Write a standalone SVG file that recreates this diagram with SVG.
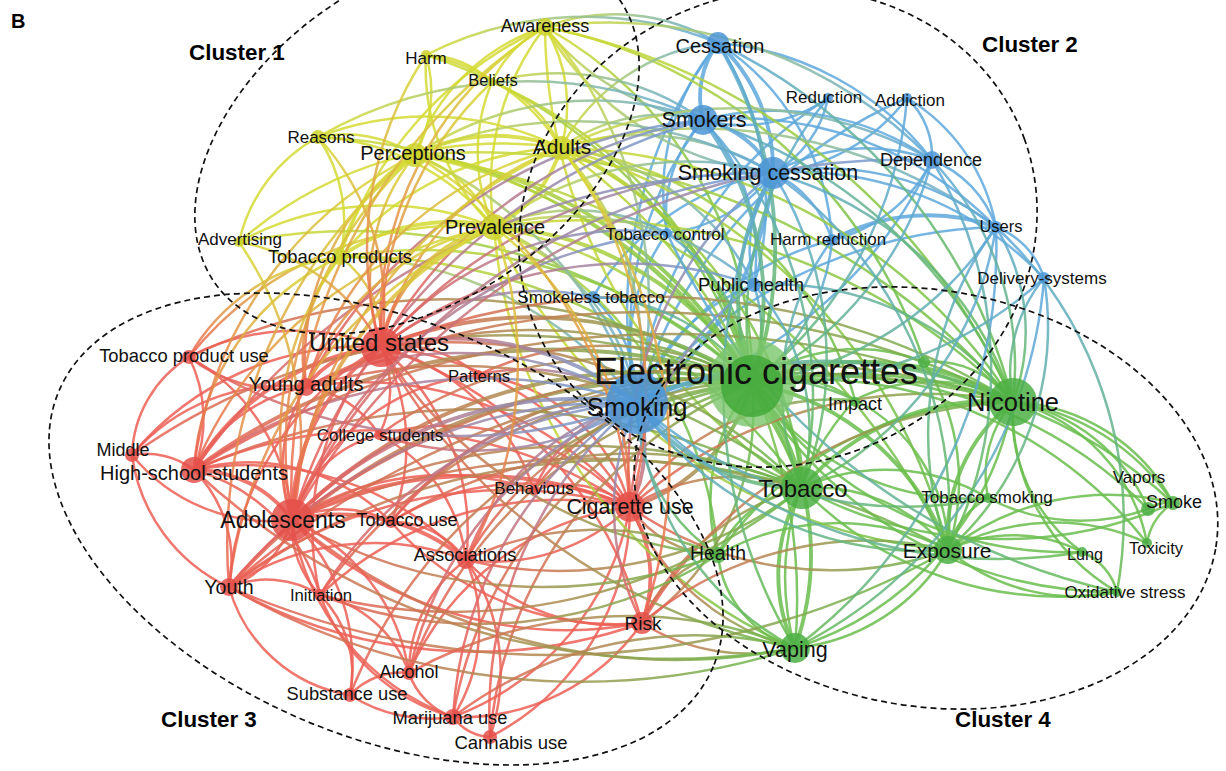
<svg xmlns="http://www.w3.org/2000/svg" width="1226" height="771" viewBox="0 0 1226 771">
<style>
.e path{fill:none;stroke-width:2.5;stroke-opacity:.85;stroke-linecap:round}
.e path.t{stroke-width:3.9}
.n1{fill:#cdd42c;fill-opacity:.85}
.n2{fill:#4c95d6;fill-opacity:.85}
.n3{fill:#e4504a;fill-opacity:.85}
.n4{fill:#4caf44;fill-opacity:.85}
.lb{font-family:"Liberation Sans",Arial,sans-serif;fill:#111;text-anchor:middle;dominant-baseline:central}
.cl{font-family:"Liberation Sans",Arial,sans-serif;font-weight:bold;fill:#000;font-size:22.4px}
.dash{fill:none;stroke:#111;stroke-width:1.7;stroke-dasharray:6 4}
</style>
<defs>
<linearGradient id="rg" x1="0" y1="0" x2="1" y2="0"><stop offset="0" stop-color="#ec5f55"/><stop offset="1" stop-color="#68bd4c"/></linearGradient>
<linearGradient id="rb" x1="0" y1="0" x2="1" y2="0"><stop offset="0" stop-color="#ec5f55"/><stop offset="1" stop-color="#6aa2dc"/></linearGradient>
<linearGradient id="brv" x1="0" y1="0" x2="0" y2="1"><stop offset="0" stop-color="#6aa2dc"/><stop offset="1" stop-color="#ec5f55"/></linearGradient>
<linearGradient id="yg" x1="0" y1="0" x2="1" y2="0"><stop offset="0" stop-color="#d6dc34"/><stop offset="1" stop-color="#68bd4c"/></linearGradient>
<linearGradient id="yb" x1="0" y1="0" x2="1" y2="0"><stop offset="0" stop-color="#d6dc34"/><stop offset="1" stop-color="#5ea8dc"/></linearGradient>
<linearGradient id="ybv" x1="0" y1="0" x2="0" y2="1"><stop offset="0" stop-color="#d6dc34"/><stop offset="1" stop-color="#5ea8dc"/></linearGradient>
<linearGradient id="bg" x1="0" y1="0" x2="1" y2="0"><stop offset="0" stop-color="#5ea8dc"/><stop offset="1" stop-color="#68bd4c"/></linearGradient>
<linearGradient id="gb" x1="0" y1="0" x2="1" y2="0"><stop offset="0" stop-color="#68bd4c"/><stop offset="1" stop-color="#5ea8dc"/></linearGradient>
<linearGradient id="bgv" x1="0" y1="0" x2="0" y2="1"><stop offset="0" stop-color="#5ea8dc"/><stop offset="1" stop-color="#68bd4c"/></linearGradient>
<linearGradient id="yrv" x1="0" y1="0" x2="0" y2="1"><stop offset="0" stop-color="#d6dc34"/><stop offset="1" stop-color="#ec5f55"/></linearGradient>
</defs>
<rect width="1226" height="771" fill="#fff"/>
<g id="connectors" class="e">
<g stroke="#d3da33">
<path d="M415 155A200 200 0 0 1 545 27"/><path d="M545 27A150 150 0 0 1 561 148"/><path d="M494 227A260 260 0 0 1 545 27"/><path d="M340 257A380 380 0 0 1 545 27"/><path d="M492 82A120 120 0 0 1 545 27"/>
<path d="M426 55A100 100 0 0 1 492 82"/><path d="M426 55A130 130 0 0 1 415 155"/><path d="M426 55A200 200 0 0 1 561 148"/><path d="M426 55A220 220 0 0 0 494 227"/><path d="M492 82A120 120 0 0 1 561 148"/><path d="M492 82A180 180 0 0 0 494 227"/>
<path d="M318 137A130 130 0 0 1 415 155"/><path d="M318 137A160 160 0 0 0 239 242"/><path d="M318 137A240 240 0 0 1 494 227"/><path d="M318 137A300 300 0 0 1 561 148"/><path d="M318 137A150 150 0 0 1 340 257"/>
<path class="t" d="M415 155A180 180 0 0 1 561 148"/><path d="M415 155A130 130 0 0 1 494 227"/><path d="M415 155A150 150 0 0 0 340 257"/><path class="t" d="M561 148A130 130 0 0 1 494 227"/><path d="M340 257A300 300 0 0 1 561 148"/><path class="t" d="M340 257A190 190 0 0 1 494 227"/><path d="M239 242A300 300 0 0 1 494 227"/><path d="M239 242A400 400 0 0 1 561 148"/>
</g>
<g stroke="#5ea8dc">
<path class="t" d="M718 43A90 90 0 0 0 703 120"/><path class="t" d="M718 43A170 170 0 0 1 773 173"/><path d="M718 43A440 440 0 0 0 637 403"/><path d="M718 43A230 230 0 0 0 667 233"/><path d="M718 43A290 290 0 0 1 754 285"/><path d="M718 43A250 250 0 0 1 832 240"/><path d="M718 43A300 300 0 0 1 932 160"/>
<path class="t" d="M703 120A100 100 0 0 1 773 173"/><path d="M703 120A150 150 0 0 0 828 98"/><path d="M703 120A350 350 0 0 0 637 403"/><path d="M703 120A140 140 0 0 0 667 233"/><path d="M703 120A200 200 0 0 1 754 285"/><path d="M703 120A280 280 0 0 1 932 160"/><path d="M703 120A360 360 0 0 1 996 227"/>
<path d="M773 173A110 110 0 0 0 828 98"/><path d="M773 173A190 190 0 0 0 907 98"/><path d="M773 173A190 190 0 0 1 932 160"/><path d="M773 173A280 280 0 0 1 996 227"/><path d="M773 173A110 110 0 0 1 832 240"/><path d="M773 173A150 150 0 0 1 667 233"/><path d="M773 173A140 140 0 0 0 754 285"/><path class="t" d="M773 173A320 320 0 0 1 637 403"/><path d="M773 173A260 260 0 0 0 593 297"/><path d="M773 173A340 340 0 0 1 1044 278"/>
<path d="M907 98A80 80 0 0 1 932 160"/><path d="M932 160A110 110 0 0 1 996 227"/><path d="M932 160A150 150 0 0 1 832 240"/><path d="M932 160A450 450 0 0 1 637 403"/><path d="M907 98A190 190 0 0 1 996 227"/><path class="t" d="M832 240A200 200 0 0 1 996 227"/><path d="M996 227A80 80 0 0 1 1044 278"/><path d="M996 227A480 480 0 0 0 637 403"/><path d="M832 240A300 300 0 0 0 637 403"/><path d="M754 285A200 200 0 0 0 637 403"/><path d="M593 297A140 140 0 0 1 637 403"/><path d="M667 233A200 200 0 0 0 637 403"/><path d="M828 98A420 420 0 0 0 637 403"/><path d="M907 98A480 480 0 0 0 637 403"/>
</g>
<g stroke="#ec5f55">
<path d="M189 357A230 230 0 0 1 381 347"/><path class="t" d="M306 387A100 100 0 0 1 381 347"/><path d="M381 347A120 120 0 0 1 478 375"/><path d="M381 347A100 100 0 0 1 379 435"/><path d="M132 455A300 300 0 0 1 381 347"/><path class="t" d="M194 470A250 250 0 0 1 381 347"/><path class="t" d="M292 520A210 210 0 0 1 381 347"/><path d="M381 347A200 200 0 0 1 391 522"/><path d="M381 347A320 320 0 0 1 630 507"/><path d="M381 347A240 240 0 0 1 466 560"/><path d="M229 587A300 300 0 0 1 381 347"/><path d="M381 347A400 400 0 0 1 642 623"/><path d="M381 347A280 280 0 0 0 320 595"/><path d="M381 347A220 220 0 0 1 534 490"/>
<path d="M189 357A150 150 0 0 0 306 387"/><path d="M189 357A120 120 0 0 0 132 455"/><path d="M189 357A140 140 0 0 1 194 470"/><path d="M189 357A200 200 0 0 1 292 520"/>
<path d="M194 470A160 160 0 0 1 306 387"/><path d="M306 387A150 150 0 0 0 292 520"/><path d="M132 455A200 200 0 0 1 306 387"/><path d="M306 387A100 100 0 0 1 379 435"/><path d="M306 387A350 350 0 0 1 630 507"/>
<path d="M132 455A80 80 0 0 1 194 470"/><path d="M132 455A180 180 0 0 0 292 520"/><path d="M132 455A170 170 0 0 0 229 587"/>
<path class="t" d="M194 470A120 120 0 0 1 292 520"/><path d="M194 470A130 130 0 0 1 229 587"/><path d="M194 470A200 200 0 0 1 391 522"/><path d="M194 470A300 300 0 0 1 466 560"/><path d="M194 470A450 450 0 0 1 630 507"/><path d="M194 470A180 180 0 0 1 320 595"/>
<path d="M292 520A110 110 0 0 1 391 522"/><path class="t" d="M292 520A200 200 0 0 1 466 560"/><path d="M292 520A100 100 0 0 1 229 587"/><path d="M292 520A100 100 0 0 0 320 595"/><path d="M292 520A200 200 0 0 1 409 673"/><path d="M292 520A200 200 0 0 1 350 695"/><path d="M292 520A250 250 0 0 0 453 717"/><path class="t" d="M292 520A400 400 0 0 1 630 507"/><path d="M292 520A400 400 0 0 0 642 623"/><path d="M292 520A120 120 0 0 1 379 435"/><path d="M292 520A220 220 0 0 1 478 375"/><path d="M292 520A280 280 0 0 1 534 490"/>
<path d="M229 587A100 100 0 0 1 320 595"/><path d="M229 587A260 260 0 0 1 466 560"/><path d="M229 587A450 450 0 0 1 630 507"/><path d="M229 587A500 500 0 0 0 642 623"/><path d="M229 587A150 150 0 0 0 350 695"/>
<path d="M320 595A110 110 0 0 1 350 695"/><path d="M320 595A200 200 0 0 0 453 717"/><path d="M320 595A120 120 0 0 1 409 673"/><path d="M350 695A70 70 0 0 1 409 673"/><path d="M409 673A70 70 0 0 0 453 717"/><path d="M409 673A280 280 0 0 1 630 507"/><path d="M409 673A140 140 0 0 1 466 560"/>
<path d="M453 717A50 50 0 0 0 490 737"/><path d="M350 695A150 150 0 0 0 453 717"/><path d="M453 717A280 280 0 0 0 630 507"/><path d="M466 560A170 170 0 0 1 453 717"/><path d="M453 717A220 220 0 0 0 642 623"/><path d="M466 560A200 200 0 0 1 490 737"/><path d="M490 737A260 260 0 0 0 630 507"/>
<path d="M466 560A200 200 0 0 0 630 507"/><path d="M391 522A90 90 0 0 1 466 560"/><path d="M466 560A200 200 0 0 0 642 623"/><path class="t" d="M630 507A130 130 0 0 1 642 623"/><path d="M534 490A100 100 0 0 1 630 507"/><path d="M391 522A250 250 0 0 1 630 507"/><path d="M379 435A250 250 0 0 1 630 507"/><path d="M379 435A160 160 0 0 1 466 560"/><path d="M478 375A180 180 0 0 1 630 507"/><path d="M391 522A300 300 0 0 0 642 623"/><path d="M320 595A350 350 0 0 1 630 507"/>
</g>
<g stroke="#68bd4c">
<path class="t" d="M752 383A300 300 0 0 1 1013 402"/><path d="M752 383A120 120 0 0 1 855 400"/><path d="M752 383A180 180 0 0 1 924 362"/><path class="t" d="M752 383A120 120 0 0 1 802 488"/><path d="M752 383A260 260 0 0 0 988 498"/><path d="M752 383A450 450 0 0 1 1148 509"/><path d="M752 383A480 480 0 0 1 1173 503"/><path d="M752 383A190 190 0 0 0 718 555"/><path class="t" d="M752 383A260 260 0 0 1 948 550"/><path d="M752 383A380 380 0 0 0 1082 552"/><path d="M752 383A430 430 0 0 1 1147 543"/><path d="M752 383A420 420 0 0 0 1117 592"/><path class="t" d="M752 383A280 280 0 0 1 795 648"/>
<path d="M855 400A170 170 0 0 1 1013 402"/><path d="M924 362A100 100 0 0 1 1013 402"/><path class="t" d="M802 488A250 250 0 0 1 1013 402"/><path d="M1013 402A110 110 0 0 0 988 498"/><path d="M1013 402A180 180 0 0 1 1148 509"/><path d="M1013 402A190 190 0 0 1 1173 503"/><path d="M1013 402A230 230 0 0 1 1173 503"/><path d="M718 555A350 350 0 0 1 1013 402"/><path class="t" d="M1013 402A170 170 0 0 0 948 550"/><path d="M1013 402A170 170 0 0 0 1082 552"/><path d="M1013 402A180 180 0 0 1 1147 543"/><path d="M1013 402A210 210 0 0 0 1117 592"/><path d="M795 648A320 320 0 0 0 1013 402"/>
<path d="M802 488A170 170 0 0 1 948 550"/><path class="t" d="M802 488A170 170 0 0 0 795 648"/><path d="M718 555A110 110 0 0 1 802 488"/><path d="M802 488A200 200 0 0 1 988 498"/><path d="M802 488A360 360 0 0 0 1117 592"/><path d="M802 488A420 420 0 0 0 1173 503"/>
<path d="M795 648A200 200 0 0 0 948 550"/><path d="M948 550A150 150 0 0 1 1082 552"/><path d="M948 550A200 200 0 0 0 1117 592"/><path d="M948 550A220 220 0 0 1 1147 543"/><path d="M948 550A80 80 0 0 1 988 498"/><path d="M718 555A240 240 0 0 1 948 550"/><path d="M948 550A260 260 0 0 1 1173 503"/><path d="M718 555A110 110 0 0 0 795 648"/><path d="M855 400A170 170 0 0 1 948 550"/><path d="M855 400A260 260 0 0 0 795 648"/><path d="M924 362A220 220 0 0 1 948 550"/><path d="M988 498A200 200 0 0 0 1148 509"/><path d="M1148 509A40 40 0 0 1 1173 503"/><path d="M1147 543A60 60 0 0 1 1173 503"/><path d="M1082 552A60 60 0 0 1 1117 592"/>
</g>
<g stroke="url(#yg)">
<path d="M545 27A400 400 0 0 1 752 383"/><path class="t" d="M415 155A450 450 0 0 1 752 383"/><path class="t" d="M561 148A320 320 0 0 1 752 383"/><path class="t" d="M494 227A320 320 0 0 1 752 383"/><path d="M340 257A480 480 0 0 1 752 383"/><path d="M239 242A600 600 0 0 1 752 383"/><path d="M318 137A550 550 0 0 1 752 383"/><path d="M426 55A500 500 0 0 1 752 383"/><path d="M492 82A450 450 0 0 1 752 383"/>
<path d="M561 148A550 550 0 0 1 1013 402"/><path d="M494 227A600 600 0 0 1 1013 402"/><path d="M415 155A700 700 0 0 1 1013 402"/><path d="M545 27A650 650 0 0 1 1013 402"/><path d="M561 148A420 420 0 0 1 802 488"/><path d="M494 227A400 400 0 0 1 802 488"/><path d="M415 155A500 500 0 0 1 802 488"/><path d="M545 27A550 550 0 0 0 802 488"/><path d="M561 148A550 550 0 0 1 948 550"/><path d="M494 227A500 500 0 0 0 795 648"/><path d="M561 148A550 550 0 0 1 795 648"/><path d="M494 227A400 400 0 0 1 718 555"/><path d="M340 257A550 550 0 0 1 802 488"/><path d="M561 148A350 350 0 0 1 855 400"/><path d="M545 27A500 500 0 0 1 924 362"/><path d="M415 155A700 700 0 0 1 948 550"/><path d="M494 227A550 550 0 0 0 948 550"/>
</g>
<g stroke="url(#yb)">
<path d="M545 27A200 200 0 0 1 718 43"/><path d="M545 27A250 250 0 0 0 703 120"/><path d="M545 27A300 300 0 0 0 773 173"/><path d="M561 148A170 170 0 0 1 703 120"/><path d="M561 148A250 250 0 0 1 773 173"/><path d="M561 148A200 200 0 0 1 718 43"/><path d="M415 155A400 400 0 0 1 637 403"/><path d="M494 227A230 230 0 0 1 637 403"/><path d="M340 257A380 380 0 0 1 637 403"/><path d="M415 155A320 320 0 0 1 703 120"/><path d="M415 155A400 400 0 0 1 773 173"/><path d="M494 227A320 320 0 0 1 773 173"/><path d="M494 227A280 280 0 0 1 754 285"/><path d="M561 148A250 250 0 0 1 754 285"/><path d="M426 55A350 350 0 0 1 718 43"/><path d="M492 82A250 250 0 0 1 703 120"/><path d="M318 137A420 420 0 0 1 703 120"/><path d="M561 148A400 400 0 0 1 932 160"/><path d="M545 27A450 450 0 0 1 932 160"/><path d="M494 227A200 200 0 0 1 667 233"/><path d="M561 148A500 500 0 0 1 996 227"/>
</g>
<g stroke="url(#ybv)">
<path d="M561 148A300 300 0 0 1 637 403"/><path d="M545 27A420 420 0 0 1 637 403"/>
</g>
<g stroke="url(#rg)">
<path class="t" d="M381 347A400 400 0 0 1 752 383"/><path class="t" d="M292 520A500 500 0 0 1 752 383"/><path class="t" d="M194 470A600 600 0 0 1 752 383"/><path d="M306 387A480 480 0 0 1 752 383"/><path d="M189 357A600 600 0 0 1 752 383"/><path d="M132 455A650 650 0 0 1 752 383"/><path d="M379 435A400 400 0 0 1 752 383"/><path d="M478 375A300 300 0 0 1 752 383"/><path d="M391 522A400 400 0 0 1 752 383"/><path d="M534 490A260 260 0 0 1 752 383"/><path class="t" d="M630 507A180 180 0 0 0 752 383"/><path d="M466 560A360 360 0 0 1 752 383"/><path class="t" d="M229 587A600 600 0 0 1 752 383"/><path d="M320 595A500 500 0 0 1 752 383"/><path d="M642 623A260 260 0 0 0 752 383"/><path d="M409 673A450 450 0 0 1 752 383"/><path d="M350 695A500 500 0 0 1 752 383"/><path d="M453 717A420 420 0 0 1 752 383"/><path d="M490 737A420 420 0 0 1 752 383"/>
<path d="M292 520A800 800 0 0 1 1013 402"/><path d="M381 347A700 700 0 0 1 1013 402"/><path d="M194 470A900 900 0 0 1 1013 402"/><path d="M229 587A850 850 0 0 1 1013 402"/><path d="M630 507A450 450 0 0 1 1013 402"/><path d="M642 623A450 450 0 0 1 1013 402"/><path d="M306 387A800 800 0 0 1 1013 402"/>
<path d="M292 520A600 600 0 0 1 802 488"/><path d="M381 347A500 500 0 0 1 802 488"/><path d="M229 587A650 650 0 0 1 802 488"/><path d="M630 507A200 200 0 0 1 802 488"/><path d="M642 623A250 250 0 0 1 802 488"/><path d="M194 470A700 700 0 0 1 802 488"/><path d="M466 560A400 400 0 0 0 802 488"/>
<path d="M292 520A600 600 0 0 0 795 648"/><path d="M381 347A600 600 0 0 0 795 648"/><path d="M229 587A700 700 0 0 0 795 648"/><path d="M630 507A250 250 0 0 0 795 648"/><path d="M642 623A200 200 0 0 0 795 648"/><path d="M194 470A700 700 0 0 0 795 648"/>
<path d="M642 623A110 110 0 0 1 718 555"/><path d="M630 507A110 110 0 0 0 718 555"/><path d="M229 587A800 800 0 0 0 948 550"/><path d="M292 520A750 750 0 0 1 948 550"/><path d="M630 507A350 350 0 0 0 948 550"/><path d="M642 623A350 350 0 0 1 948 550"/><path d="M466 560A300 300 0 0 1 718 555"/><path d="M320 595A450 450 0 0 0 718 555"/><path d="M381 347A450 450 0 0 0 718 555"/><path d="M292 520A500 500 0 0 0 718 555"/><path d="M409 673A450 450 0 0 1 795 648"/><path d="M453 717A400 400 0 0 1 795 648"/><path d="M630 507A250 250 0 0 1 855 400"/><path d="M391 522A450 450 0 0 1 802 488"/><path d="M320 595A550 550 0 0 0 802 488"/><path d="M306 387A550 550 0 0 1 802 488"/>
</g>
<g stroke="url(#rb)">
<path class="t" d="M381 347A300 300 0 0 1 637 403"/><path class="t" d="M292 520A400 400 0 0 1 637 403"/><path d="M194 470A500 500 0 0 1 637 403"/><path d="M306 387A350 350 0 0 1 637 403"/><path d="M229 587A500 500 0 0 1 637 403"/><path d="M379 435A300 300 0 0 0 637 403"/><path d="M391 522A300 300 0 0 1 637 403"/><path d="M466 560A250 250 0 0 1 637 403"/><path d="M478 375A200 200 0 0 1 637 403"/><path d="M534 490A150 150 0 0 1 637 403"/><path d="M189 357A500 500 0 0 0 637 403"/><path d="M453 717A400 400 0 0 1 637 403"/><path d="M409 673A380 380 0 0 1 637 403"/><path d="M490 737A400 400 0 0 1 637 403"/><path d="M320 595A400 400 0 0 1 637 403"/>
<path d="M292 520A600 600 0 0 1 773 173"/><path d="M381 347A500 500 0 0 1 773 173"/><path d="M381 347A450 450 0 0 1 703 120"/><path d="M292 520A600 600 0 0 1 703 120"/><path d="M381 347A400 400 0 0 1 754 285"/><path d="M194 470A700 700 0 0 1 773 173"/><path d="M306 387A500 500 0 0 1 703 120"/><path d="M381 347A250 250 0 0 1 593 297"/><path d="M292 520A700 700 0 0 1 932 160"/><path d="M381 347A320 320 0 0 1 667 233"/><path d="M292 520A450 450 0 0 1 667 233"/>
</g>
<g stroke="url(#brv)">
<path class="t" d="M637 403A130 130 0 0 1 630 507"/><path d="M637 403A250 250 0 0 0 642 623"/><path d="M773 173A380 380 0 0 0 630 507"/><path d="M754 285A300 300 0 0 0 630 507"/>
</g>
<g stroke="url(#bg)">
<path d="M637 403A150 150 0 0 1 752 383" stroke-width="5"/><path class="t" d="M637 403A450 450 0 0 1 1013 402"/><path class="t" d="M637 403A200 200 0 0 0 802 488"/><path d="M637 403A350 350 0 0 0 948 550"/><path d="M637 403A400 400 0 0 0 988 498"/><path d="M637 403A250 250 0 0 1 855 400"/><path d="M637 403A500 500 0 0 0 1082 552"/><path d="M593 297A200 200 0 0 1 752 383"/><path d="M667 233A200 200 0 0 1 752 383"/><path d="M773 173A350 350 0 0 1 1013 402"/><path d="M703 120A500 500 0 0 1 1013 402"/><path d="M718 43A550 550 0 0 1 1013 402"/><path d="M667 233A650 650 0 0 0 1117 592"/><path d="M754 285A300 300 0 0 1 1013 402"/>
</g>
<g stroke="url(#gb)">
<path d="M752 383A200 200 0 0 0 832 240"/><path d="M752 383A350 350 0 0 0 932 160"/><path d="M752 383A350 350 0 0 0 996 227"/><path d="M752 383A400 400 0 0 0 1044 278"/><path d="M752 383A400 400 0 0 0 907 98"/><path d="M795 648A500 500 0 0 0 996 227"/><path d="M802 488A350 350 0 0 0 996 227"/><path d="M795 648A450 450 0 0 0 1044 278"/>
</g>
<g stroke="url(#bgv)">
<path d="M637 403A300 300 0 0 0 795 648"/><path d="M637 403A180 180 0 0 0 718 555"/><path d="M754 285A150 150 0 0 1 752 383"/><path class="t" d="M703 120A300 300 0 0 1 752 383"/><path class="t" d="M718 43A400 400 0 0 1 752 383"/><path class="t" d="M773 173A250 250 0 0 0 752 383"/><path d="M828 98A350 350 0 0 0 752 383"/><path d="M932 160A300 300 0 0 1 1013 402"/><path d="M996 227A200 200 0 0 1 1013 402"/><path d="M1044 278A150 150 0 0 0 1013 402"/><path d="M773 173A350 350 0 0 1 802 488"/><path d="M703 120A400 400 0 0 1 802 488"/><path d="M996 227A350 350 0 0 0 948 550"/><path d="M932 160A400 400 0 0 1 948 550"/><path d="M1044 278A300 300 0 0 1 948 550"/><path d="M832 240A250 250 0 0 0 802 488"/><path d="M754 285A220 220 0 0 1 802 488"/><path d="M773 173A420 420 0 0 1 948 550"/><path d="M773 173A500 500 0 0 0 795 648"/><path d="M996 227A400 400 0 0 1 1117 592"/>
</g>
<g stroke="url(#yrv)">
<path d="M415 155A200 200 0 0 0 381 347"/><path class="t" d="M494 227A150 150 0 0 0 381 347"/><path d="M561 148A280 280 0 0 0 381 347"/><path d="M545 27A350 350 0 0 0 381 347"/><path d="M340 257A100 100 0 0 1 381 347"/><path d="M415 155A400 400 0 0 0 292 520"/><path class="t" d="M494 227A350 350 0 0 0 292 520"/><path d="M561 148A450 450 0 0 0 292 520"/><path d="M340 257A300 300 0 0 0 292 520"/><path d="M494 227A400 400 0 0 0 194 470"/><path d="M415 155A250 250 0 0 0 306 387"/><path d="M340 257A150 150 0 0 0 306 387"/><path d="M340 257A250 250 0 0 0 194 470"/><path d="M494 227A250 250 0 0 0 306 387"/><path d="M494 227A350 350 0 0 0 189 357"/><path d="M561 148A400 400 0 0 1 630 507"/><path d="M494 227A350 350 0 0 1 630 507"/><path d="M415 155A450 450 0 0 1 630 507"/><path d="M561 148A350 350 0 0 0 306 387"/><path d="M494 227A450 450 0 0 0 229 587"/><path d="M415 155A400 400 0 0 0 194 470"/><path d="M239 242A350 350 0 0 1 292 520"/><path d="M239 242A200 200 0 0 1 381 347"/><path d="M318 137A250 250 0 0 1 381 347"/><path d="M494 227A400 400 0 0 1 466 560"/><path d="M561 148A500 500 0 0 1 642 623"/><path d="M415 155A500 500 0 0 0 229 587"/><path d="M545 27A550 550 0 0 0 292 520"/><path d="M340 257A200 200 0 0 0 189 357"/><path d="M426 55A350 350 0 0 0 381 347"/><path d="M492 82A350 350 0 0 0 381 347"/>
</g>
</g>
<g id="nodes">
<g id="n-awareness"><circle class="n1" cx="545" cy="27" r="9"/><text class="lb" x="545" y="26" font-size="18">Awareness</text></g>
<g id="n-harm"><circle class="n1" cx="426" cy="55" r="5"/><text class="lb" x="426" y="58" font-size="17">Harm</text></g>
<g id="n-beliefs"><circle class="n1" cx="492" cy="82" r="4"/><text class="lb" x="493" y="80" font-size="16.5">Beliefs</text></g>
<g id="n-reasons"><circle class="n1" cx="318" cy="137" r="7"/><text class="lb" x="321" y="137" font-size="17">Reasons</text></g>
<g id="n-perceptions"><circle class="n1" cx="415" cy="155" r="12"/><text class="lb" x="413" y="153" font-size="20">Perceptions</text></g>
<g id="n-adults"><circle class="n1" cx="561" cy="148" r="12"/><text class="lb" x="562" y="146" font-size="21">Adults</text></g>
<g id="n-prevalence"><circle class="n1" cx="494" cy="227" r="13"/><text class="lb" x="495" y="227" font-size="20">Prevalence</text></g>
<g id="n-advertising"><circle class="n1" cx="239" cy="242" r="5"/><text class="lb" x="240" y="239" font-size="17">Advertising</text></g>
<g id="n-tobacco-products"><circle class="n1" cx="340" cy="257" r="8"/><text class="lb" x="340" y="256" font-size="18.4">Tobacco products</text></g>
<g id="n-cessation"><circle class="n2" cx="718" cy="43" r="11"/><text class="lb" x="720" y="46" font-size="20">Cessation</text></g>
<g id="n-smokers"><circle class="n2" cx="703" cy="120" r="15"/><text class="lb" x="704" y="120" font-size="21.5">Smokers</text></g>
<g id="n-reduction"><circle class="n2" cx="828" cy="98" r="5"/><text class="lb" x="824" y="97" font-size="17">Reduction</text></g>
<g id="n-addiction"><circle class="n2" cx="907" cy="98" r="5"/><text class="lb" x="910" y="100" font-size="17">Addiction</text></g>
<g id="n-smoking-cessation"><circle class="n2" cx="773" cy="173" r="16"/><text class="lb" x="768" y="173" font-size="21.5">Smoking cessation</text></g>
<g id="n-dependence"><circle class="n2" cx="932" cy="160" r="9"/><text class="lb" x="931" y="160" font-size="18">Dependence</text></g>
<g id="n-users"><circle class="n2" cx="996" cy="227" r="6"/><text class="lb" x="1001" y="226" font-size="16.5">Users</text></g>
<g id="n-harm-reduction"><circle class="n2" cx="832" cy="240" r="6"/><text class="lb" x="828" y="239" font-size="17">Harm reduction</text></g>
<g id="n-tobacco-control"><circle class="n2" cx="667" cy="233" r="5"/><text class="lb" x="665" y="234" font-size="17">Tobacco control</text></g>
<g id="n-delivery-systems"><circle class="n2" cx="1044" cy="278" r="6"/><text class="lb" x="1042" y="278" font-size="17">Delivery-systems</text></g>
<g id="n-public-health"><circle class="n2" cx="754" cy="285" r="7"/><text class="lb" x="751" y="284" font-size="18.5">Public health</text></g>
<g id="n-smokeless-tobacco"><circle class="n2" cx="593" cy="297" r="6"/><text class="lb" x="591" y="297" font-size="17">Smokeless tobacco</text></g>
<g id="n-united-states"><circle class="n3" cx="381" cy="347" r="20"/><text class="lb" x="379" y="342" font-size="24">United states</text></g>
<g id="n-tobacco-product-use"><circle class="n3" cx="189" cy="357" r="7"/><text class="lb" x="184" y="355" font-size="18.4">Tobacco product use</text></g>
<g id="n-young-adults"><circle class="n3" cx="306" cy="387" r="9"/><text class="lb" x="306" y="384" font-size="20">Young adults</text></g>
<g id="n-patterns"><circle class="n3" cx="478" cy="375" r="5"/><text class="lb" x="479" y="376" font-size="16.7">Patterns</text></g>
<g id="n-college-students"><circle class="n3" cx="379" cy="435" r="5"/><text class="lb" x="380" y="435" font-size="17">College students</text></g>
<g id="n-middle"><circle class="n3" cx="132" cy="455" r="7"/><text class="lb" x="123" y="450" font-size="18">Middle</text></g>
<g id="n-high-school-students"><circle class="n3" cx="194" cy="470" r="13"/><text class="lb" x="194" y="473" font-size="20">High-school-students</text></g>
<g id="n-adolescents"><circle class="n3" cx="292" cy="520" r="21"/><text class="lb" x="283" y="520" font-size="23">Adolescents</text></g>
<g id="n-tobacco-use"><circle class="n3" cx="391" cy="522" r="6"/><text class="lb" x="407" y="520" font-size="18">Tobacco use</text></g>
<g id="n-behavious"><circle class="n3" cx="534" cy="490" r="5"/><text class="lb" x="534" y="488" font-size="17">Behavious</text></g>
<g id="n-cigarette-use"><circle class="n3" cx="630" cy="507" r="15"/><text class="lb" x="630" y="507" font-size="21.4">Cigarette use</text></g>
<g id="n-associations"><circle class="n3" cx="466" cy="560" r="9"/><text class="lb" x="465" y="554" font-size="18.3">Associations</text></g>
<g id="n-youth"><circle class="n3" cx="229" cy="587" r="9"/><text class="lb" x="229" y="587" font-size="19.6">Youth</text></g>
<g id="n-initiation"><circle class="n3" cx="320" cy="595" r="6"/><text class="lb" x="321" y="595" font-size="16.7">Initiation</text></g>
<g id="n-risk"><circle class="n3" cx="642" cy="623" r="11"/><text class="lb" x="643" y="623" font-size="19">Risk</text></g>
<g id="n-alcohol"><circle class="n3" cx="409" cy="673" r="7"/><text class="lb" x="409" y="672" font-size="18">Alcohol</text></g>
<g id="n-substance-use"><circle class="n3" cx="350" cy="695" r="7"/><text class="lb" x="347" y="693" font-size="18.3">Substance use</text></g>
<g id="n-marijuana-use"><circle class="n3" cx="453" cy="717" r="8"/><text class="lb" x="450" y="717" font-size="18.3">Marijuana use</text></g>
<g id="n-cannabis-use"><circle class="n3" cx="490" cy="737" r="7"/><text class="lb" x="511" y="742" font-size="18.5">Cannabis use</text></g>
<g id="n-smoking"><circle class="n2" cx="637" cy="403" r="31"/><text class="lb" x="637" y="407" font-size="26">Smoking</text></g>
<g id="n-electronic-cigarettes"><circle cx="752" cy="383" r="44" fill="#7cc56b" fill-opacity=".8"/><circle cx="752" cy="386" r="31" fill="#3ea836" fill-opacity=".8"/><text class="lb" x="756" y="371" font-size="36">Electronic cigarettes</text></g>
<g id="n-nicotine"><circle class="n4" cx="1013" cy="402" r="24"/><text class="lb" x="1013" y="402" font-size="25.5">Nicotine</text></g>
<g id="n-impact"><circle class="n4" cx="855" cy="402" r="5"/><text class="lb" x="855" y="404" font-size="18">Impact</text></g>
<g id="n-unlabeled"><circle class="n4" cx="924" cy="362" r="6"/></g>
<g id="n-tobacco"><circle class="n4" cx="802" cy="488" r="21"/><text class="lb" x="803" y="488" font-size="24">Tobacco</text></g>
<g id="n-tobacco-smoking"><circle class="n4" cx="988" cy="498" r="5"/><text class="lb" x="987" y="497" font-size="17">Tobacco smoking</text></g>
<g id="n-vapors"><circle class="n4" cx="1148" cy="509" r="7"/><text class="lb" x="1139" y="477" font-size="17">Vapors</text></g>
<g id="n-smoke"><circle class="n4" cx="1173" cy="503" r="7"/><text class="lb" x="1174" y="502" font-size="18">Smoke</text></g>
<g id="n-health"><circle class="n4" cx="718" cy="555" r="8"/><text class="lb" x="718" y="553" font-size="19.4">Health</text></g>
<g id="n-exposure"><circle class="n4" cx="948" cy="550" r="14"/><text class="lb" x="947" y="550" font-size="21">Exposure</text></g>
<g id="n-lung"><circle class="n4" cx="1082" cy="552" r="5"/><text class="lb" x="1085" y="554" font-size="16.2">Lung</text></g>
<g id="n-toxicity"><circle class="n4" cx="1147" cy="543" r="5"/><text class="lb" x="1156" y="548" font-size="16.5">Toxicity</text></g>
<g id="n-oxidative-stress"><circle class="n4" cx="1117" cy="592" r="5"/><text class="lb" x="1125" y="592" font-size="17">Oxidative stress</text></g>
<g id="n-vaping"><circle class="n4" cx="795" cy="648" r="15"/><text class="lb" x="795" y="650" font-size="21.5">Vaping</text></g>
</g>
<g id="clusters">
<ellipse class="dash" cx="417" cy="141" rx="247" ry="160" transform="rotate(-35 417 141)"/>
<ellipse class="dash" cx="778" cy="228" rx="262" ry="236" transform="rotate(-20 778 228)"/>
<ellipse class="dash" cx="386" cy="529" rx="355" ry="208" transform="rotate(22.8 386 529)"/>
<ellipse class="dash" cx="926" cy="498" rx="294" ry="208" transform="rotate(10 926 498)"/>
<text class="cl" x="189" y="60">Cluster 1</text>
<text class="cl" x="982" y="52">Cluster 2</text>
<text class="cl" x="161" y="727">Cluster 3</text>
<text class="cl" x="955" y="727">Cluster 4</text>
<text class="cl" x="11" y="28" style="font-size:20px">B</text>
</g>
</svg>
